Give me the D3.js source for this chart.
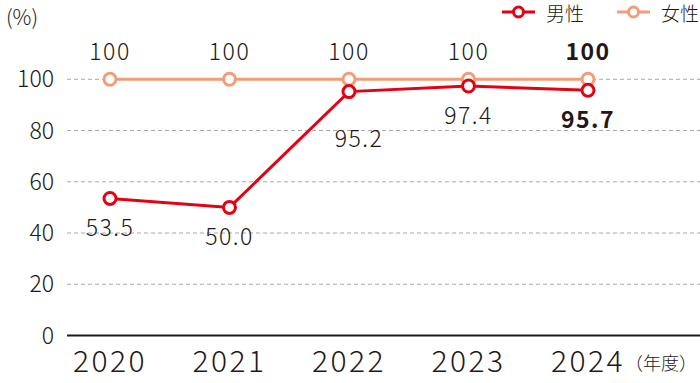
<!DOCTYPE html>
<html>
<head>
<meta charset="utf-8">
<script src="https://cdn.jsdelivr.net/npm/d3@7"></script>
<style>
  body { margin: 0; background: #fff; }
  svg text { font-family: "Noto Sans CJK JP", "Noto Sans", sans-serif; fill: #231815; font-weight: 300; }
</style>
</head>
<body>
<svg id="chart" width="700" height="383"></svg>
<script>
const years = ["2020", "2021", "2022", "2023", "2024"];
const maleValues = [53.5, 50.0, 95.2, 97.4, 95.7];
const femaleValues = [100, 100, 100, 100, 100];
const maleLabels = ["53.5", "50.0", "95.2", "97.4", "95.7"];
const femaleLabels = ["100", "100", "100", "100", "100"];
const yTicks = [0, 20, 40, 60, 80, 100];
const seriesNames = ["男性", "女性"];

const maleColour = "#e60012";
const femaleColour = "#f29c78";

const svg = d3.select("#chart");

const plot = { left: 67, right: 700 };

const xScale = d3.scalePoint()
    .domain(years)
    .range([110, 588]);
const yScale = d3.scaleLinear()
    .domain([0, 100])
    .range([335.5, 79.3]);

// gridlines
svg.selectAll(".grid")
    .data(yTicks.filter(d => d > 0))
    .join("line")
    .attr("class", "grid")
    .attr("x1", plot.left)
    .attr("x2", plot.right)
    .attr("y1", d => yScale(d))
    .attr("y2", d => yScale(d))
    .attr("stroke", "#a9a9a9")
    .attr("stroke-width", 1)
    .attr("stroke-dasharray", "4,3");

// baseline
svg.append("line")
    .attr("x1", plot.left)
    .attr("x2", plot.right)
    .attr("y1", yScale(0))
    .attr("y2", yScale(0))
    .attr("stroke", "#231815")
    .attr("stroke-width", 2);

// y tick labels
svg.selectAll(".ytick")
    .data(yTicks)
    .join("text")
    .attr("class", "ytick")
    .attr("x", 54)
    .attr("y", d => yScale(d) + 8)
    .attr("text-anchor", "end")
    .attr("font-size", 23)
    .text(d => d);

svg.append("text")
    .attr("x", 6)
    .attr("y", 25)
    .attr("font-size", 21)
    .text("(%)");

// x tick labels
svg.selectAll(".xtick")
    .data(years)
    .join("text")
    .attr("class", "xtick")
    .attr("x", d => xScale(d))
    .attr("y", 372)
    .attr("text-anchor", "middle")
    .attr("font-size", 30)
    .attr("letter-spacing", 2.5)
    .text(d => d);

svg.append("text")
    .attr("x", 697)
    .attr("y", 370)
    .attr("text-anchor", "end")
    .attr("font-size", 18)
    .text("（年度）");

const line = d3.line()
    .x((d, i) => xScale(years[i]))
    .y(d => yScale(d));

const drawSeries = (values, colour, cls) => {
    svg.append("path")
        .datum(values)
        .attr("fill", "none")
        .attr("stroke", colour)
        .attr("stroke-width", 3)
        .attr("d", line);
    svg.selectAll("." + cls)
        .data(values)
        .join("circle")
        .attr("class", cls)
        .attr("cx", (d, i) => xScale(years[i]))
        .attr("cy", d => yScale(d))
        .attr("r", 6)
        .attr("fill", "#fff")
        .attr("stroke", colour)
        .attr("stroke-width", 3);
};

drawSeries(femaleValues, femaleColour, "female-dot");
drawSeries(maleValues, maleColour, "male-dot");

// value labels
const last = years.length - 1;
svg.selectAll(".female-label")
    .data(femaleLabels)
    .join("text")
    .attr("class", "female-label")
    .attr("x", (d, i) => xScale(years[i]))
    .attr("y", (d, i) => yScale(femaleValues[i]) - 19)
    .attr("text-anchor", "middle")
    .attr("font-size", 23)
    .attr("letter-spacing", 1.5)
    .style("font-weight", (d, i) => i === last ? "bold" : "300")
    .text(d => d);

svg.selectAll(".male-label")
    .data(maleLabels)
    .join("text")
    .attr("class", "male-label")
    .attr("x", (d, i) => xScale(years[i]) + (i === 2 ? 10 : 0))
    .attr("y", (d, i) => yScale(maleValues[i]) + (i === 2 ? 55 : 38))
    .attr("text-anchor", "middle")
    .attr("font-size", 23)
    .attr("letter-spacing", 1.5)
    .style("font-weight", (d, i) => i === last ? "bold" : "300")
    .text(d => d);

// legend
const legend = svg.append("g");
const legendX = [502, 617];
[maleColour, femaleColour].forEach((colour, i) => {
    const g = legend.append("g").attr("transform", `translate(${legendX[i]},12)`);
    g.append("line")
        .attr("x1", 0).attr("x2", 33)
        .attr("stroke", colour).attr("stroke-width", 3);
    g.append("circle")
        .attr("cx", 16.5).attr("r", 5)
        .attr("fill", "#fff").attr("stroke", colour).attr("stroke-width", 3);
    g.append("text")
        .attr("x", 44).attr("y", 9)
        .attr("font-size", 19)
        .text(seriesNames[i]);
});
</script>
</body>
</html>
